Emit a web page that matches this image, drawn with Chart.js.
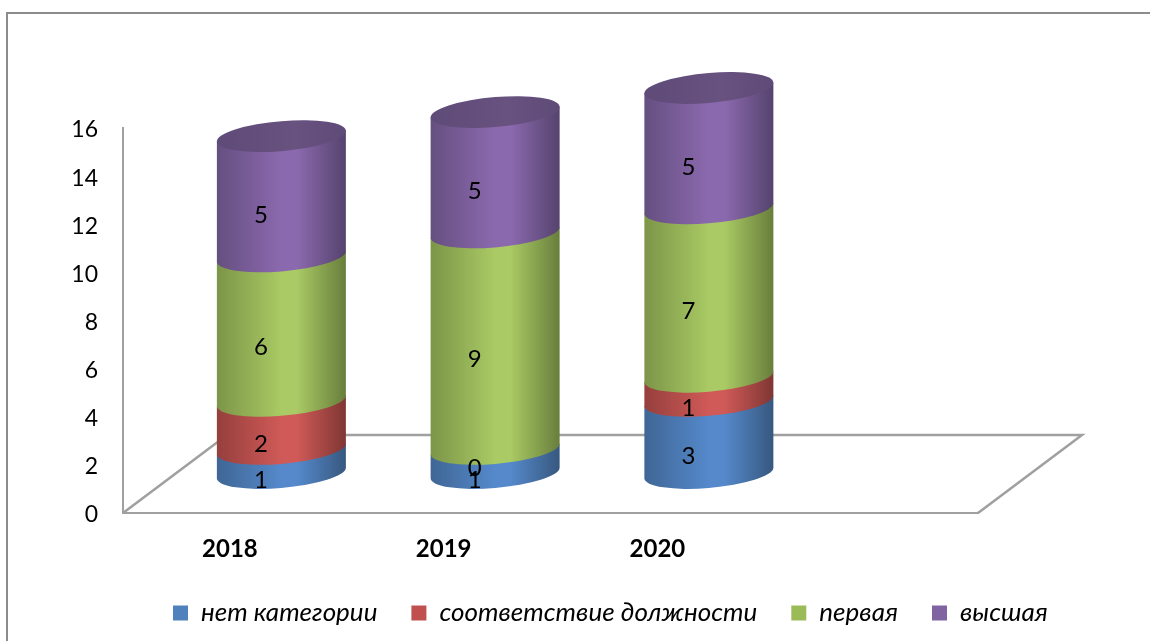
<!DOCTYPE html>
<html><head><meta charset="utf-8">
<style>html,body{margin:0;padding:0;background:#fff}#w{width:1150px;height:641px;position:relative}</style>
<script src="https://cdn.jsdelivr.net/npm/chart.js@4"></script>
</head><body><div id="w"><canvas id="c" width="1150" height="641"></canvas></div>
<script>
const categories = ['2018', '2019', '2020', ''];
const noCategory = [1, 1, 3, null];
const matchesPost = [2, 0, 1, null];
const firstGrade = [6, 9, 7, null];
const topGrade = [5, 5, 5, null];
const seriesNames = ['нет категории', 'соответствие должности', 'первая', 'высшая'];
const legendColors = ['#4f81bd', '#c0504d', '#9bbb59', '#8064a2'];
const shades = [
  ['#3f6695', '#5589cb', '#37587f'],
  ['#963f3d', '#cf5a57', '#7f3634'],
  ['#7c9548', '#a9ca64', '#687e3c'],
  ['#654f80', '#8b69ae', '#55436d']
];
const topFace = ['#5f4b78', '#68527f'];
const AXIS = '#a0a0a0', FRAME = '#8c8c8c';
const DEPTH_X = 104, DEPTH_Y = 78;

function grad(ctx, l, r, s) {
  const g = ctx.createLinearGradient(l, 0, r, 0);
  g.addColorStop(0, s[0]); g.addColorStop(0.5, s[1]); g.addColorStop(0.62, s[1]); g.addColorStop(1, s[2]);
  return g;
}
function ell(ctx, cx, cy, a, b, start, end, ccw) {
  ctx.save();
  ctx.transform(1, -0.082, 0, 1, cx, cy);
  ctx.ellipse(0, 0, a, b, 0, start, end, !!ccw);
  ctx.restore();
}
const scene = {
  id: 'scene',
  beforeDraw(chart) {
    const c = chart.ctx, xs = chart.scales.x, ys = chart.scales.y;
    c.save();
    c.fillStyle = '#fff'; c.fillRect(0, 0, chart.width, chart.height);
    c.strokeStyle = FRAME; c.lineWidth = 2;
    c.beginPath(); c.moveTo(7, chart.height); c.lineTo(7, 13); c.lineTo(chart.width, 13); c.stroke();
    c.strokeStyle = AXIS; c.lineWidth = 2.5;
    c.beginPath();
    c.moveTo(xs.left, ys.bottom);
    c.lineTo(xs.left + DEPTH_X, ys.bottom - DEPTH_Y);
    c.lineTo(xs.right + DEPTH_X, ys.bottom - DEPTH_Y);
    c.lineTo(xs.right, ys.bottom);
    c.stroke();
    c.restore();
  },
  beforeDatasetsDraw(chart) {
    const c = chart.ctx;
    const ox = DEPTH_X / 2 - 0.5, oy = -40, b = 15;
    categories.forEach((_, i) => {
      let topEl = null;
      chart.data.datasets.forEach((ds, d) => {
        const el = chart.getDatasetMeta(d).data[i];
        if (!el || !ds.data[i]) return;
        topEl = el;
        const cx = el.x + ox, a = el.width / 2;
        const by = el.base + oy, ty = el.y + oy;
        const sk = a * 0.082;
        c.beginPath();
        c.moveTo(cx - a, ty + sk);
        c.lineTo(cx - a, by + sk);
        ell(c, cx, by, a, b, Math.PI, 0, true);
        c.lineTo(cx + a, ty - sk);
        c.closePath();
        c.fillStyle = grad(c, cx - a, cx + a, shades[d]);
        c.fill();
      });
      if (topEl) {
        const cx = topEl.x + ox, a = topEl.width / 2, ty = topEl.y + oy;
        c.beginPath();
        ell(c, cx, ty, a, b, 0, Math.PI * 2);
        c.closePath();
        const g = c.createLinearGradient(cx - a, 0, cx + a, 0);
        g.addColorStop(0, topFace[0]); g.addColorStop(0.6, topFace[1]); g.addColorStop(1, topFace[0]);
        c.fillStyle = g; c.fill();
      }
    });
    return false;
  },
  afterDraw(chart) {
    const c = chart.ctx;
    c.save();
    c.font = '24px Lato'; c.fillStyle = '#000'; c.textAlign = 'center'; c.textBaseline = 'middle';
    chart.data.datasets.forEach((ds, d) => {
      chart.getDatasetMeta(d).data.forEach((el, i) => {
        if (ds.data[i] == null) return;
        c.fillText(String(ds.data[i]), el.x + 31, (el.y + el.base) / 2 - 21);
      });
    });
    c.restore();
  },
  afterLayout(chart) {
    const l = chart.legend;
    const w = l.right - l.left;
    l.left = 173 - 34; l.right = l.left + w;
    const h = l.bottom - l.top;
    l.top = 613 - 34 - 13; l.bottom = l.top + h;
  }
};
const ds = (label, data, i) => ({ label, data, backgroundColor: legendColors[i], stack: 's', barPercentage: 1, categoryPercentage: 0.6035 });
new Chart(document.getElementById('c'), {
  type: 'bar',
  data: {
    labels: categories,
    datasets: [ds(seriesNames[0], noCategory, 0), ds(seriesNames[1], matchesPost, 1), ds(seriesNames[2], firstGrade, 2), ds(seriesNames[3], topGrade, 3)]
  },
  plugins: [scene],
  options: {
    responsive: false, animation: false,
    layout: { padding: { left: 0, right: 172, top: 128, bottom: 0 } },
    plugins: {
      tooltip: { enabled: false },
      legend: {
        position: 'bottom', align: 'start',
        labels: { boxWidth: 15, boxHeight: 15, padding: 34, color: '#000', font: { family: 'Lato', size: 26, style: 'italic' } }
      }
    },
    scales: {
      x: {
        stacked: true,
        grid: { display: false },
        border: { color: AXIS, width: 2 },
        ticks: { color: '#000', padding: 14, maxRotation: 0, font: { family: 'Lato', size: 24, weight: 'bold' } },
        afterFit(s) { s.height = Math.max(10, 128 - (s.chart.legend ? s.chart.legend.height : 0)); s.paddingLeft = 0; s.paddingRight = 0; }
      },
      y: {
        stacked: true, min: 0, max: 16,
        grid: { display: false },
        border: { color: AXIS, width: 2 },
        ticks: { stepSize: 2, color: '#000', padding: 17, labelOffset: 2, font: { family: 'Lato', size: 23 } },
        afterFit(s) { s.width = 123; s.paddingTop = 0; s.paddingBottom = 0; }
      }
    }
  }
});
</script></body></html>
